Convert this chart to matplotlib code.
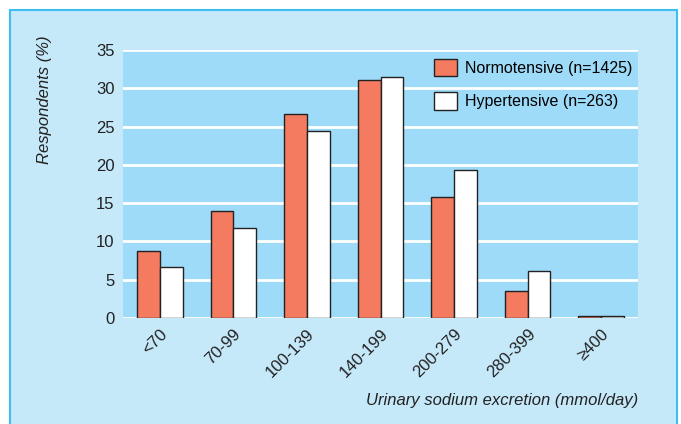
import matplotlib.pyplot as plt
import matplotlib.patches as mpatches
import numpy as np

# intake bands and share of respondents (%)
categories = ['<70', '70-99', '100-139', '140-199', '200-279', '280-399', '≥400']
normotensive = [8.7, 14.0, 26.6, 31.1, 15.8, 3.5, 0.3]
hypertensive = [6.6, 11.8, 24.4, 31.5, 19.3, 6.1, 0.3]
legend_labels = ['Normotensive (n=1425)', 'Hypertensive (n=263)']

W, H = 681, 424
plt.rcParams['font.family'] = ['Liberation Sans Narrow', 'Liberation Sans', 'DejaVu Sans']

fig = plt.figure(figsize=(W / 100, H / 100), dpi=100)
fig.patch.set_facecolor('white')

# light blue panel behind the chart
panel = mpatches.Rectangle((10 / W, -0.05), 667 / W, 1 - 10 / H + 0.05,
                           transform=fig.transFigure, facecolor='#c6e9fa',
                           edgecolor='#3cbff0', linewidth=1.5, zorder=-10)
fig.patches.append(panel)

ax = fig.add_axes([123 / W, 1 - 318 / H, 515 / W, 268 / H])
ax.set_facecolor('#9edbf8')

x = np.arange(len(categories))
w = 0.31
ax.bar(x - w / 2, normotensive, w, color='#f47b60', edgecolor='#222222',
       linewidth=1, label=legend_labels[0], zorder=3)
ax.bar(x + w / 2, hypertensive, w, color='white', edgecolor='#222222',
       linewidth=1, label=legend_labels[1], zorder=3)

ax.set_xlim(-0.5, len(categories) - 0.5)
ax.set_ylim(0, 35)
ax.set_yticks(range(0, 36, 5))
ax.yaxis.grid(True, color='white', linewidth=2, zorder=1)
ax.set_axisbelow(True)
for s in ax.spines.values():
    s.set_visible(False)
ax.tick_params(length=0, labelsize=12, colors='#222222', pad=6)
ax.set_xticks(x)
ax.set_xticklabels(categories, rotation=45, ha='right', rotation_mode='anchor')

fig.text(45 / W, 1 - 100 / H, 'Respondents (%)', rotation=90, style='italic',
         fontsize=12, ha='center', va='center', color='#222222')
fig.text(638 / W, 1 - 400 / H, 'Urinary sodium excretion (mmol/day)',
         style='italic', fontsize=12, ha='right', va='center', color='#222222')

leg = ax.legend(loc='upper left', frameon=False, fontsize=11.5,
                handlelength=1.45, handleheight=1.3, handletextpad=0.5,
                labelspacing=1.0, borderpad=0, borderaxespad=0,
                bbox_to_anchor=((434 - 123) / 515, (318 - 59) / 268))

fig.savefig('out.png', dpi=100)
